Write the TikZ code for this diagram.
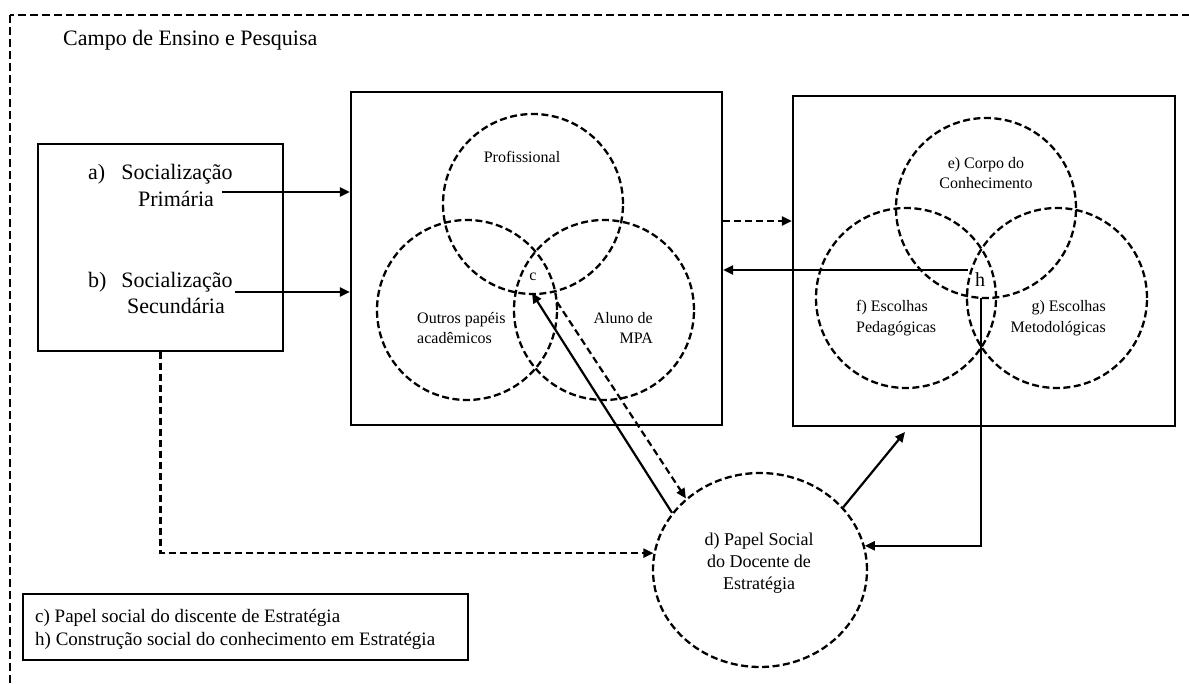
\documentclass[tikz,border=0pt]{standalone}
\usepackage{fontspec}
\setmainfont{Liberation Serif}
\usetikzlibrary{arrows.meta,shapes.geometric}
\begin{document}
\begin{tikzpicture}[x=1pt,y=-1pt,
  outerframe/.style={line width=2.2pt, dash pattern=on 8pt off 4pt},
  box/.style={draw, line width=2.3pt, inner sep=0pt},
  ring/.style={circle, draw, line width=2.3pt, dash pattern=on 7pt off 3.5pt, minimum size=180pt, inner sep=0pt},
  arr/.style={line width=2.2pt, -{Triangle[length=10pt,width=9pt]}},
  darr/.style={arr, dash pattern=on 7pt off 4pt},
  txtbig/.style={inner sep=0pt, font=\fontsize{22}{27}\selectfont},
  txtsmall/.style={inner sep=0pt, font=\fontsize{16}{20.5}\selectfont},
  txtmid/.style={inner sep=0pt, font=\fontsize{18}{22}\selectfont},
  txtnote/.style={inner sep=0pt, font=\fontsize{19}{23}\selectfont}]

\useasboundingbox (0,0) rectangle (1189,684);
\clip (0,0) rectangle (1189,684);

% field of teaching and research
\draw[outerframe] (10,15) rectangle (1205,700);
\node[txtbig, anchor=base west] (title) at (63,46) {Campo de Ensino e Pesquisa};

% socialization box
\node[box, minimum width=245pt, minimum height=207pt] (lbox) at (160.5,247.5) {};
\node[txtbig, anchor=base west] (la) at (88,180) {a)};
\node[txtbig, anchor=base] (sa) at (177,180) {Socialização};
\node[txtbig, anchor=base] (pa) at (176,207) {Primária};
\node[txtbig, anchor=base west] (lb) at (88,288) {b)};
\node[txtbig, anchor=base] (sb) at (177,288) {Socialização};
\node[txtbig, anchor=base] (pb) at (176,314) {Secundária};

% student roles
\node[box, minimum width=371pt, minimum height=333pt] (mbox) at (536.5,258.5) {};
\node[ring] (prof) at (533,204) {};
\node[ring] (outros) at (467,310) {};
\node[ring] (aluno) at (604,310) {};
\node[txtsmall, anchor=base] (proft) at (522,163) {Profissional};
\node[txtsmall, anchor=west, align=left] (outrost) at (417,328) {Outros papéis\\acadêmicos};
\node[txtsmall, anchor=east, align=right] (alunot) at (653,328) {Aluno de\\MPA};
\node[txtsmall] (c) at (533,277) {c};

% knowledge construction
\node[box, minimum width=382pt, minimum height=330pt] (rbox) at (984,261) {};
\node[ring] (corpo) at (986,208) {};
\node[ring] (pedag) at (906,298) {};
\node[ring] (metod) at (1057,298) {};
\node[txtsmall, align=center] (corpot) at (986,173) {e) Corpo do\\Conhecimento};
\node[txtsmall, anchor=west, align=left] (pedagt) at (856,318) {f) Escolhas\\Pedagógicas};
\node[txtsmall, anchor=east, align=right] (metodt) at (1106,318) {g) Escolhas\\Metodológicas};
\node[font=\fontsize{20}{24}\selectfont, inner sep=0pt] (h) at (980,280) {h};

% teacher's social role
\node[ellipse, draw, line width=2.3pt, dash pattern=on 7pt off 3.5pt,
      minimum width=214pt, minimum height=194pt, inner sep=0pt] (d) at (760,570) {};
\node[txtmid, align=center] (dt) at (759,563) {d) Papel Social\\do Docente de\\Estratégia};

% legend
\node[box, line width=1.6pt, minimum width=445pt, minimum height=66pt] (legend) at (245.5,627) {};
\node[txtnote, anchor=west, align=left] (legendt) at (35,629)
  {c) Papel social do discente de Estratégia\\h) Construção social do conhecimento em Estratégia};

% connector ends
\coordinate (aout) at (222,192);
\coordinate (bout) at (235,292);
\coordinate (mid2right) at (757,221);
\coordinate (hleft) at (968,270);
\coordinate (hdown) at (981,298);
\coordinate (cfoot) at (532,293);
\coordinate (cside) at (557,302);
\coordinate (rfoot) at (905,432);

% connectors
\draw[arr] (aout) -- (aout -| mbox.west);
\draw[arr] (bout) -- (bout -| mbox.west);
\draw[darr] (lbox.south) |- (d.171);
\draw[darr] (mid2right -| mbox.east) -- (mid2right -| rbox.west);
\draw[arr] (hleft) -- (hleft -| mbox.east);
\draw[arr] (hdown) |- (d.13);
\draw[arr] (d.147) -- (cfoot);
\draw[darr] (cside) -- (d.136);
\draw[arr] (d.37) -- (rfoot);
\end{tikzpicture}
\end{document}
